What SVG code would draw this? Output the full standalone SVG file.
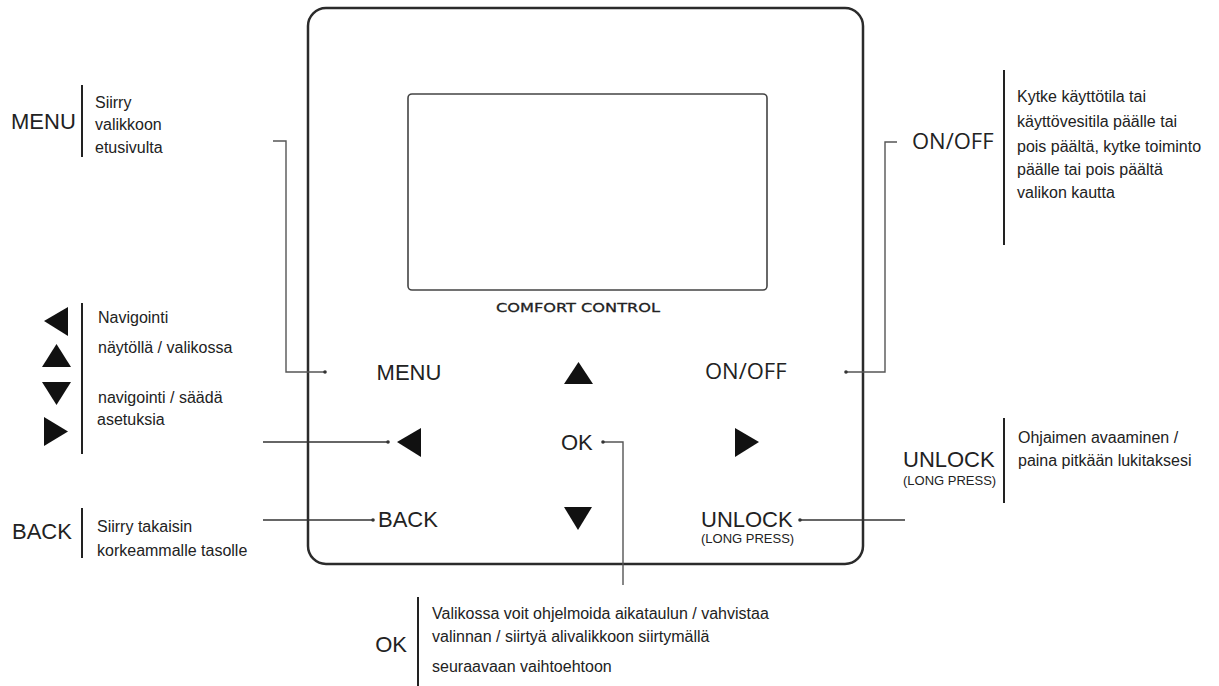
<svg xmlns="http://www.w3.org/2000/svg" width="1219" height="686" viewBox="0 0 1219 686">
<style>
.lbl{font-family:"Liberation Sans",Arial,sans-serif;font-size:22px;fill:#222}
.hum{font-family:"Open Sans","Liberation Sans",sans-serif;font-size:22px;fill:#222}
.sm{font-family:"Liberation Sans",Arial,sans-serif;font-size:13px;fill:#222}
.desc{font-family:"Liberation Sans",Arial,sans-serif;font-size:16px;fill:#222}
.bar{stroke:#222;stroke-width:2;fill:none}
.con{stroke:#333;stroke-width:1.5;fill:none}
.con2{stroke:#555;stroke-width:1.4;fill:none}
.dot{fill:#333}
.tri{fill:#111}
</style>
<g id="panel">
<rect x="308" y="8" width="555" height="556" rx="18" fill="#fff" stroke="#2b2b2b" stroke-width="2.5"/>
<rect x="408" y="94" width="359" height="196" rx="4" fill="none" stroke="#444" stroke-width="1.6"/>
<text x="496" y="312" textLength="164" lengthAdjust="spacingAndGlyphs" style="font-family:'DejaVu Sans',sans-serif;font-size:13px;fill:#222;stroke:#222;stroke-width:0.3">COMFORT  CONTROL</text>
</g>
<g id="btn-menu"><text class="lbl" x="409" y="380" text-anchor="middle">MENU</text></g>
<g id="btn-up"><polygon class="tri" points="564,384 593,384 578.5,362"/></g>
<g id="btn-onoff"><text class="hum" x="705" y="379">ON/OFF</text></g>
<g id="btn-left"><polygon class="tri" points="397,442 421,428 421,457"/></g>
<g id="btn-ok"><text class="lbl" x="561" y="450">OK</text></g>
<g id="btn-right"><polygon class="tri" points="759,442 735,428 735,457"/></g>
<g id="btn-back"><text class="lbl" x="378" y="527">BACK</text></g>
<g id="btn-down"><polygon class="tri" points="564,507 592,507 578,530"/></g>
<g id="btn-unlock"><text class="lbl" x="701" y="527">UNLOCK</text><text class="sm" x="701" y="543">(LONG PRESS)</text></g>

<g id="connectors">
<path class="con2" d="M273,141 H286 V372 H325"/><circle class="dot" cx="325" cy="372" r="1.8"/>
<path class="con" d="M263,442 H388"/><circle class="dot" cx="388" cy="442" r="1.8"/>
<path class="con" d="M263,520 H373"/><circle class="dot" cx="373" cy="520" r="1.8"/>
<path class="con2" d="M897,142 H885 V372 H846"/><circle class="dot" cx="846" cy="372" r="1.8"/>
<path class="con" d="M905,520 H800"/><circle class="dot" cx="800" cy="520" r="1.8"/>
<path class="con2" d="M603,442 H623 V585"/><circle class="dot" cx="603" cy="442" r="1.8"/>
</g>

<g id="legend-menu">
<text class="lbl" x="11" y="129">MENU</text>
<line class="bar" x1="82" y1="85" x2="82" y2="157"/>
<text class="desc" x="95" y="108">Siirry</text>
<text class="desc" x="95" y="130">valikkoon</text>
<text class="desc" x="95" y="153">etusivulta</text>
</g>
<g id="legend-arrows">
<polygon class="tri" points="44,321 68,307 68,336"/>
<polygon class="tri" points="42,367 71,367 56.5,344"/>
<polygon class="tri" points="42,382 71,382 56.5,405"/>
<polygon class="tri" points="68,431.5 44,417 44,446"/>
<line class="bar" x1="82" y1="303" x2="82" y2="454"/>
<text class="desc" x="98" y="323">Navigointi</text>
<text class="desc" x="98" y="353">näytöllä / valikossa</text>
<text class="desc" x="98" y="403">navigointi / säädä</text>
<text class="desc" x="97" y="425">asetuksia</text>
</g>
<g id="legend-back">
<text class="lbl" x="12" y="539">BACK</text>
<line class="bar" x1="82" y1="508" x2="82" y2="558"/>
<text class="desc" x="97" y="532">Siirry takaisin</text>
<text class="desc" x="97" y="556">korkeammalle tasolle</text>
</g>
<g id="legend-onoff">
<text class="hum" x="912" y="149">ON/OFF</text>
<line class="bar" x1="1004" y1="70" x2="1004" y2="245"/>
<text class="desc" x="1017" y="102">Kytke käyttötila tai</text>
<text class="desc" x="1017" y="127">käyttövesitila päälle tai</text>
<text class="desc" x="1017" y="152">pois päältä, kytke toiminto</text>
<text class="desc" x="1017" y="175">päälle tai pois päältä</text>
<text class="desc" x="1017" y="198">valikon kautta</text>
</g>
<g id="legend-unlock">
<text class="lbl" x="903" y="467">UNLOCK</text>
<text class="sm" x="903" y="485">(LONG PRESS)</text>
<line class="bar" x1="1004" y1="418" x2="1004" y2="503"/>
<text class="desc" x="1018" y="443">Ohjaimen avaaminen /</text>
<text class="desc" x="1018" y="466">paina pitkään lukitaksesi</text>
</g>
<g id="legend-ok">
<text class="lbl" x="407" y="652" text-anchor="end">OK</text>
<line class="bar" x1="418" y1="597" x2="418" y2="686"/>
<text class="desc" x="432" y="619">Valikossa voit ohjelmoida aikataulun / vahvistaa</text>
<text class="desc" x="432" y="642">valinnan / siirtyä alivalikkoon siirtymällä</text>
<text class="desc" x="432" y="672">seuraavaan vaihtoehtoon</text>
</g>
</svg>
